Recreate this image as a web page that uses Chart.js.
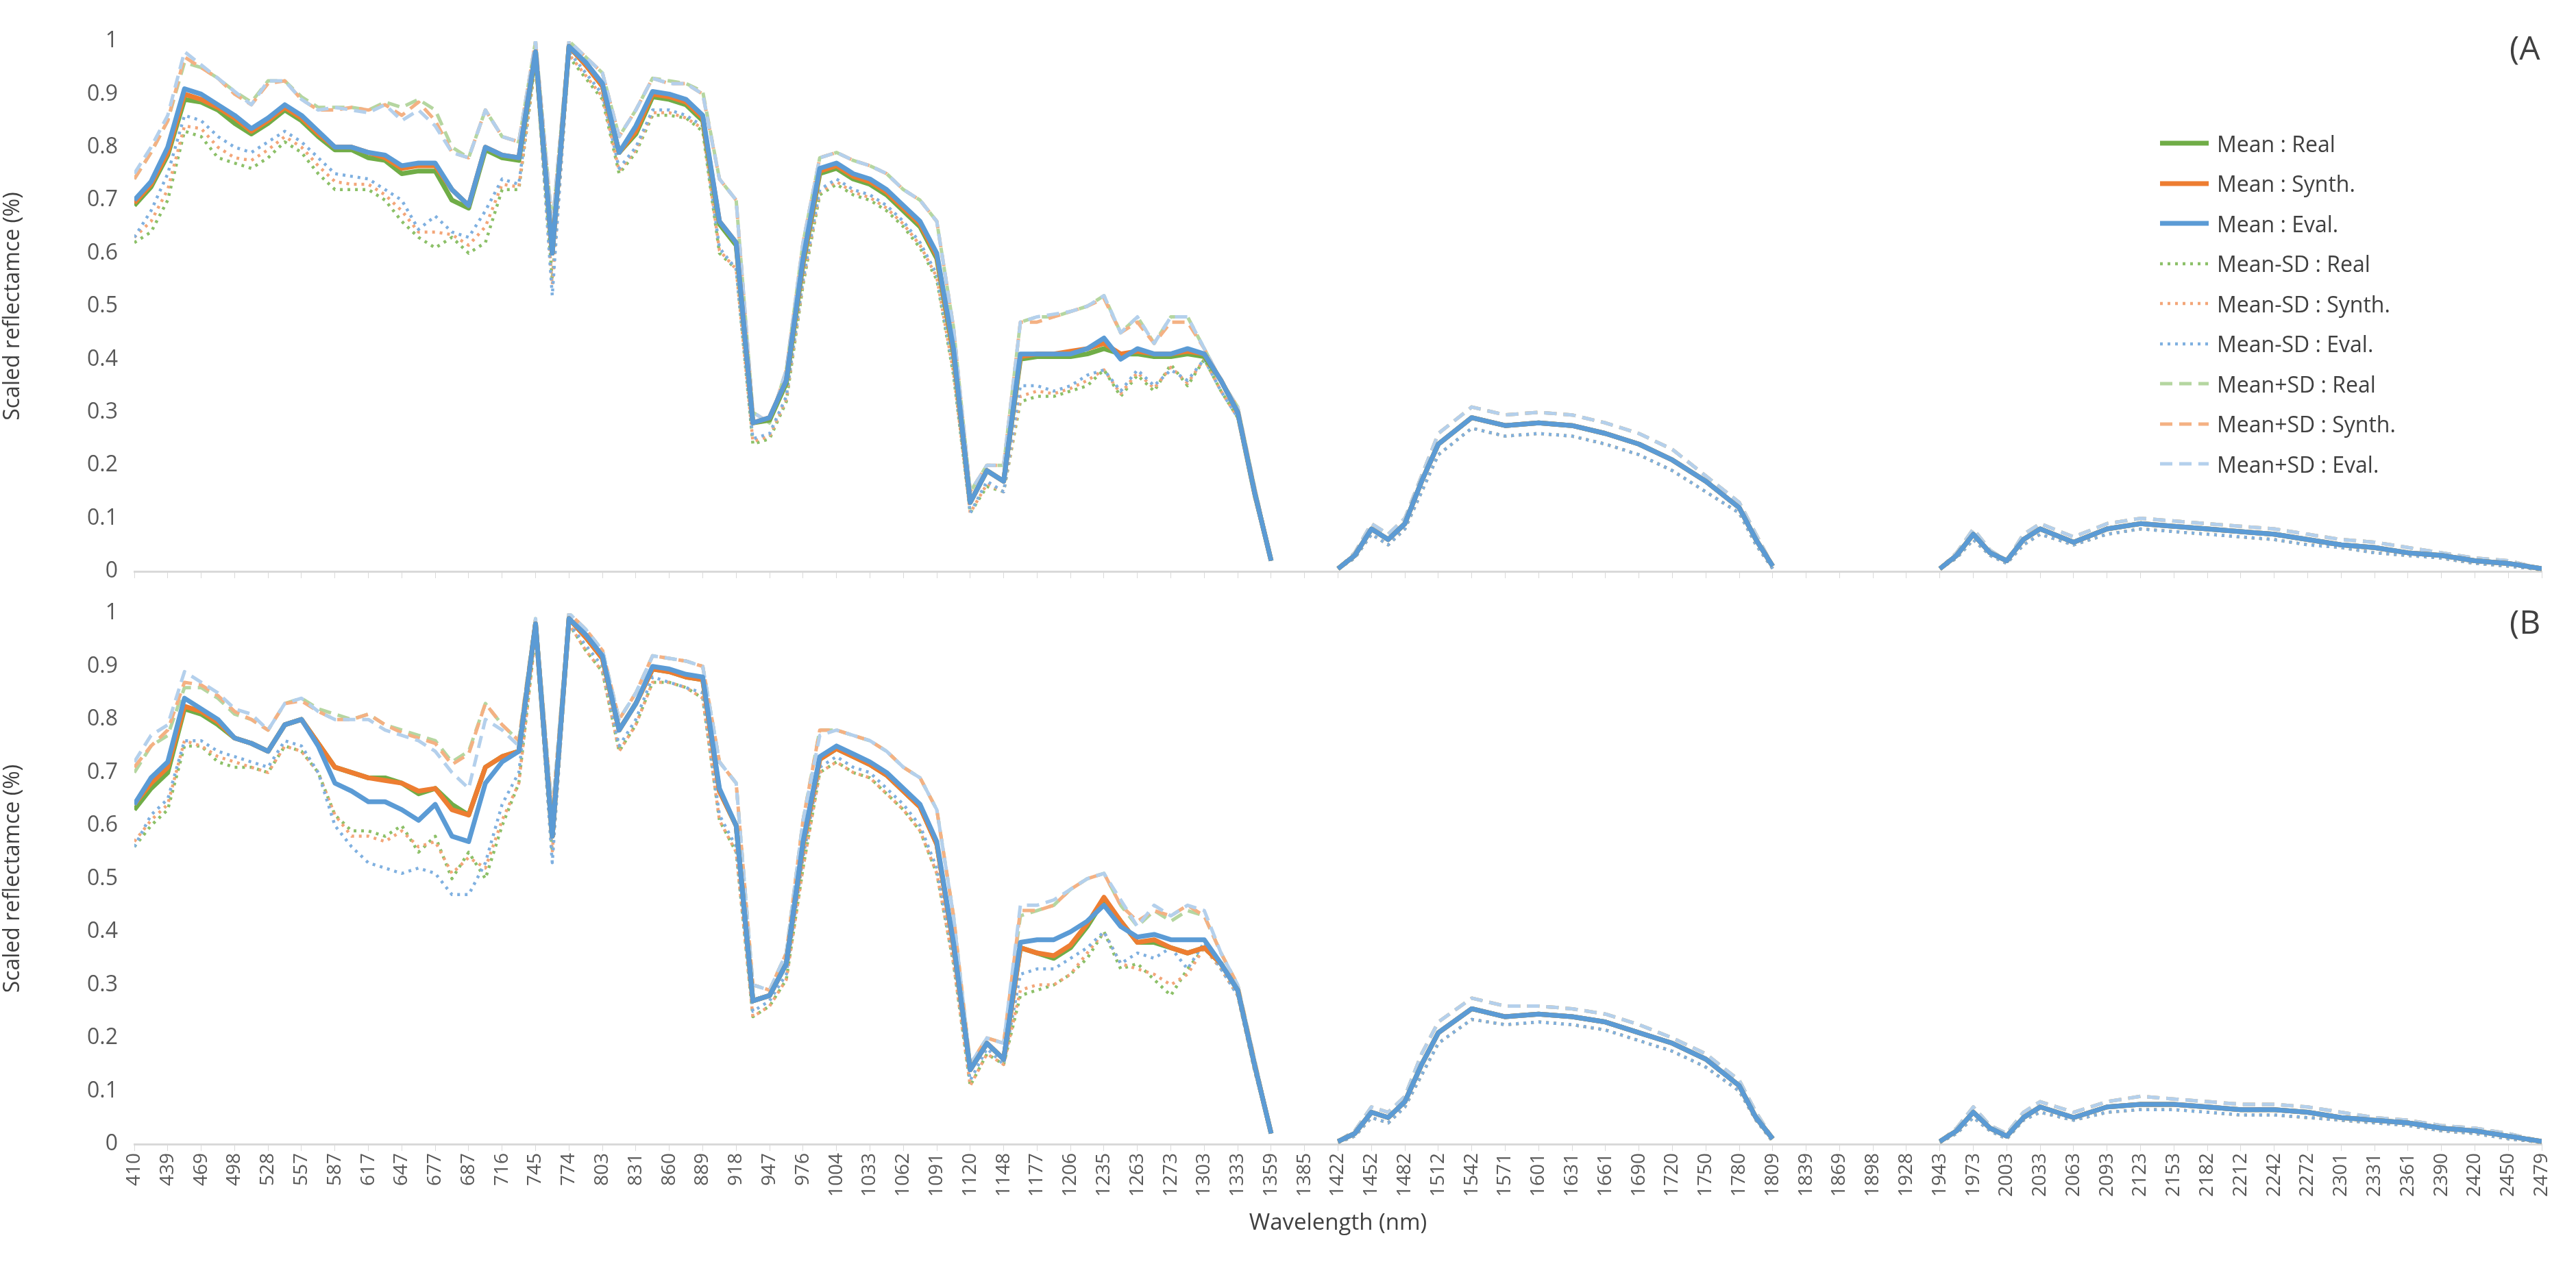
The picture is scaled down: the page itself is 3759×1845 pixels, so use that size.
<!DOCTYPE html>
<html><head><meta charset="utf-8">
<script src="https://cdn.jsdelivr.net/npm/chart.js@4.4.1/dist/chart.umd.min.js"></script>
<style>
body{margin:0;background:#fff;width:3759px;height:1845px;overflow:hidden;font-family:"Open Sans",sans-serif;}
.box{position:absolute;left:0;width:3759px;}
.lbl{position:absolute;font-size:48px;color:#404040;font-family:"Open Sans",sans-serif;}
#legend{position:absolute;left:3150px;top:180px;}
.li{height:58.5px;display:flex;align-items:center;font-size:32px;color:#404040;}
.li canvas{margin-right:10px;}
</style></head><body>
<div class="box" style="top:0;height:880px"><canvas id="cA"></canvas></div>
<div class="box" style="top:860px;height:945px"><canvas id="cB"></canvas></div>
<div class="lbl" style="left:3662px;top:36px">(A</div>
<div class="lbl" style="left:3662px;top:874px">(B</div>
<div id="legend"></div>
<script>
const tickLabels=[410,439,469,498,528,557,587,617,647,677,687,716,745,774,803,831,860,889,918,947,976,1004,1033,1062,1091,1120,1148,1177,1206,1235,1263,1273,1303,1333,1359,1385,1422,1452,1482,1512,1542,1571,1601,1631,1661,1690,1720,1750,1780,1809,1839,1869,1898,1928,1943,1973,2003,2033,2063,2093,2123,2153,2182,2212,2242,2272,2301,2331,2361,2390,2420,2450,2479];
// sample positions (in tick-label index units)
const xVis=[0,0.5,1,1.5,2,2.5,3,3.5,4,4.5,5,5.5,6,6.5,7,7.5,8,8.5,9,9.5,10,10.5,11,11.5,12,12.5,13,13.5,14,14.5,15,15.5,16,16.5,17,17.5,18,18.5,19,19.5,20,20.5,21,21.5,22,22.5,23,23.5,24,24.5,25,25.5,26,26.5,27,27.5,28,28.5,29,29.5,30,30.5,31,31.5,32,32.5,33,33.5,34];
const xSwir=[35,36,36.5,37,37.5,38,38.5,39,40,41,42,43,44,45,46,47,48,48.5,49,50,54,54.5,55,55.5,56,56.5,57,58,59,60,61,62,63,64,65,66,67,68,69,70,71,72];

// Panel A
const A_meanReal_vis=[0.69,0.725,0.785,0.89,0.885,0.87,0.845,0.825,0.845,0.87,0.85,0.82,0.795,0.795,0.78,0.775,0.75,0.755,0.755,0.70,0.685,0.795,0.78,0.775,0.975,0.60,0.99,0.955,0.915,0.79,0.825,0.895,0.89,0.88,0.85,0.655,0.615,0.28,0.285,0.355,0.58,0.75,0.76,0.74,0.73,0.71,0.68,0.65,0.59,0.41,0.13,0.19,0.17,0.40,0.405,0.405,0.405,0.41,0.42,0.41,0.41,0.405,0.405,0.41,0.405,0.36,0.30,0.15,0.02];
const A_meanSynth_vis=[0.695,0.73,0.79,0.90,0.89,0.875,0.855,0.83,0.85,0.875,0.855,0.825,0.80,0.80,0.79,0.78,0.76,0.765,0.765,0.72,0.69,0.80,0.785,0.78,0.98,0.60,0.99,0.955,0.915,0.79,0.83,0.90,0.895,0.885,0.855,0.66,0.62,0.28,0.29,0.36,0.585,0.755,0.765,0.745,0.735,0.715,0.685,0.655,0.595,0.415,0.13,0.19,0.17,0.405,0.41,0.41,0.415,0.42,0.43,0.41,0.415,0.41,0.41,0.415,0.41,0.36,0.30,0.15,0.02];
const A_meanEval_vis=[0.70,0.735,0.80,0.91,0.90,0.88,0.86,0.835,0.855,0.88,0.86,0.83,0.80,0.80,0.79,0.785,0.765,0.77,0.77,0.72,0.69,0.80,0.785,0.78,0.98,0.60,0.99,0.96,0.92,0.79,0.84,0.905,0.90,0.89,0.86,0.66,0.62,0.28,0.29,0.36,0.59,0.76,0.77,0.75,0.74,0.72,0.69,0.66,0.60,0.42,0.13,0.19,0.17,0.41,0.41,0.41,0.41,0.42,0.44,0.40,0.42,0.41,0.41,0.42,0.41,0.36,0.30,0.15,0.02];
const A_lowReal_vis=[0.62,0.64,0.70,0.83,0.82,0.78,0.77,0.76,0.78,0.81,0.79,0.75,0.72,0.72,0.72,0.70,0.66,0.63,0.61,0.63,0.60,0.62,0.72,0.72,0.96,0.55,0.97,0.93,0.89,0.75,0.79,0.86,0.86,0.855,0.83,0.60,0.57,0.24,0.25,0.32,0.54,0.71,0.73,0.71,0.70,0.68,0.65,0.61,0.55,0.37,0.11,0.16,0.15,0.32,0.33,0.33,0.34,0.35,0.38,0.33,0.37,0.34,0.39,0.35,0.40,0.34,0.29,0.14,0.02];
const A_lowSynth_vis=[0.63,0.66,0.72,0.84,0.835,0.80,0.78,0.775,0.795,0.82,0.80,0.765,0.735,0.73,0.73,0.71,0.68,0.64,0.64,0.635,0.615,0.65,0.73,0.725,0.965,0.54,0.975,0.935,0.895,0.755,0.795,0.865,0.865,0.855,0.835,0.605,0.57,0.245,0.255,0.325,0.545,0.715,0.735,0.715,0.705,0.685,0.655,0.615,0.555,0.375,0.11,0.165,0.15,0.33,0.34,0.335,0.345,0.36,0.38,0.335,0.375,0.345,0.385,0.355,0.40,0.34,0.29,0.14,0.02];
const A_lowEval_vis=[0.63,0.68,0.75,0.86,0.85,0.82,0.80,0.79,0.81,0.83,0.81,0.78,0.75,0.745,0.74,0.72,0.70,0.645,0.67,0.64,0.63,0.68,0.74,0.73,0.97,0.52,0.98,0.94,0.90,0.76,0.80,0.87,0.87,0.86,0.84,0.61,0.57,0.25,0.26,0.33,0.55,0.72,0.74,0.72,0.71,0.69,0.66,0.62,0.56,0.38,0.11,0.17,0.15,0.35,0.35,0.34,0.35,0.37,0.38,0.34,0.38,0.35,0.38,0.36,0.40,0.34,0.29,0.14,0.02];
const A_upReal_vis=[0.74,0.79,0.85,0.96,0.95,0.93,0.905,0.885,0.925,0.925,0.895,0.875,0.875,0.875,0.87,0.885,0.875,0.89,0.87,0.80,0.78,0.87,0.82,0.81,1.0,0.65,1.0,0.97,0.94,0.82,0.87,0.93,0.925,0.92,0.905,0.74,0.70,0.30,0.28,0.38,0.62,0.78,0.79,0.775,0.765,0.75,0.72,0.70,0.66,0.46,0.15,0.20,0.20,0.47,0.48,0.48,0.49,0.50,0.52,0.45,0.48,0.43,0.48,0.48,0.42,0.36,0.31,0.16,0.02];
const A_upSynth_vis=[0.74,0.79,0.85,0.97,0.95,0.93,0.90,0.88,0.92,0.925,0.89,0.87,0.87,0.875,0.87,0.88,0.86,0.885,0.85,0.79,0.78,0.87,0.82,0.81,1.0,0.65,1.0,0.97,0.94,0.82,0.87,0.93,0.92,0.92,0.90,0.74,0.70,0.30,0.28,0.38,0.62,0.78,0.79,0.775,0.765,0.75,0.72,0.70,0.66,0.46,0.15,0.20,0.20,0.47,0.47,0.48,0.49,0.50,0.515,0.45,0.47,0.43,0.47,0.47,0.42,0.36,0.31,0.16,0.02];
const A_upEval_vis=[0.75,0.80,0.86,0.98,0.955,0.93,0.905,0.88,0.925,0.925,0.89,0.87,0.875,0.87,0.865,0.88,0.85,0.87,0.84,0.79,0.78,0.87,0.82,0.81,1.0,0.65,1.0,0.97,0.94,0.82,0.87,0.93,0.92,0.92,0.90,0.74,0.70,0.30,0.28,0.38,0.62,0.78,0.79,0.775,0.765,0.75,0.72,0.70,0.66,0.46,0.15,0.20,0.20,0.47,0.48,0.485,0.49,0.50,0.52,0.45,0.48,0.43,0.48,0.48,0.42,0.36,0.31,0.16,0.02];
const A_mean_swir=[null,0.005,0.03,0.08,0.06,0.09,0.17,0.24,0.29,0.275,0.28,0.275,0.26,0.24,0.21,0.17,0.12,0.06,0.01,null,0.005,0.03,0.07,0.035,0.02,0.06,0.08,0.055,0.08,0.09,0.085,0.08,0.075,0.07,0.06,0.05,0.045,0.035,0.03,0.02,0.015,0.005];
const A_up_swir=[null,0.005,0.035,0.09,0.07,0.10,0.18,0.26,0.31,0.295,0.30,0.295,0.28,0.26,0.23,0.18,0.13,0.07,0.01,null,0.005,0.035,0.08,0.04,0.02,0.07,0.09,0.065,0.09,0.10,0.095,0.09,0.085,0.08,0.07,0.06,0.055,0.045,0.035,0.025,0.02,0.005];
const A_low_swir=[null,0.005,0.025,0.07,0.05,0.08,0.15,0.22,0.27,0.255,0.26,0.255,0.24,0.22,0.19,0.15,0.11,0.05,0.005,null,0.005,0.025,0.06,0.03,0.015,0.05,0.07,0.05,0.07,0.08,0.075,0.07,0.065,0.06,0.05,0.045,0.035,0.03,0.025,0.015,0.01,0.003];

// Panel B
const B_meanReal_vis=[0.63,0.67,0.70,0.82,0.81,0.79,0.765,0.755,0.74,0.79,0.80,0.755,0.71,0.70,0.69,0.69,0.68,0.66,0.67,0.64,0.62,0.71,0.73,0.74,0.98,0.58,0.99,0.955,0.915,0.78,0.83,0.895,0.89,0.88,0.875,0.665,0.60,0.27,0.28,0.34,0.565,0.725,0.745,0.73,0.715,0.695,0.665,0.635,0.565,0.375,0.14,0.19,0.16,0.37,0.36,0.35,0.37,0.41,0.46,0.42,0.38,0.38,0.37,0.36,0.37,0.34,0.29,0.15,0.02];
const B_meanSynth_vis=[0.64,0.68,0.71,0.825,0.815,0.795,0.765,0.755,0.74,0.79,0.80,0.755,0.71,0.70,0.69,0.685,0.68,0.665,0.67,0.63,0.62,0.71,0.73,0.74,0.98,0.58,0.99,0.955,0.915,0.78,0.83,0.895,0.89,0.88,0.875,0.665,0.60,0.27,0.28,0.34,0.565,0.725,0.745,0.73,0.715,0.695,0.665,0.635,0.565,0.375,0.14,0.19,0.16,0.37,0.36,0.355,0.375,0.415,0.465,0.42,0.38,0.385,0.37,0.36,0.37,0.34,0.29,0.15,0.02];
const B_meanEval_vis=[0.64,0.69,0.72,0.84,0.82,0.80,0.765,0.755,0.74,0.79,0.80,0.75,0.68,0.665,0.645,0.645,0.63,0.61,0.64,0.58,0.57,0.68,0.72,0.74,0.98,0.58,0.99,0.96,0.92,0.78,0.83,0.90,0.895,0.885,0.88,0.67,0.60,0.27,0.28,0.34,0.57,0.73,0.75,0.735,0.72,0.70,0.67,0.64,0.57,0.38,0.14,0.19,0.16,0.38,0.385,0.385,0.40,0.42,0.45,0.41,0.39,0.395,0.385,0.385,0.385,0.34,0.29,0.15,0.02];
const B_lowReal_vis=[0.56,0.60,0.63,0.75,0.75,0.72,0.71,0.71,0.70,0.75,0.74,0.70,0.62,0.59,0.59,0.58,0.60,0.55,0.58,0.50,0.55,0.50,0.60,0.68,0.96,0.55,0.98,0.93,0.89,0.74,0.79,0.87,0.87,0.86,0.84,0.61,0.55,0.24,0.26,0.31,0.52,0.70,0.72,0.70,0.69,0.66,0.63,0.59,0.51,0.34,0.11,0.17,0.15,0.28,0.29,0.30,0.32,0.35,0.40,0.33,0.34,0.31,0.28,0.33,0.37,0.33,0.28,0.14,0.02];
const B_lowSynth_vis=[0.57,0.61,0.64,0.76,0.75,0.73,0.72,0.71,0.70,0.75,0.74,0.70,0.62,0.58,0.58,0.57,0.59,0.56,0.57,0.51,0.54,0.52,0.61,0.68,0.96,0.55,0.98,0.93,0.89,0.74,0.79,0.87,0.87,0.86,0.84,0.61,0.55,0.24,0.26,0.31,0.52,0.70,0.72,0.70,0.69,0.66,0.63,0.59,0.51,0.34,0.11,0.17,0.15,0.29,0.30,0.30,0.32,0.36,0.40,0.34,0.33,0.32,0.30,0.32,0.37,0.33,0.28,0.14,0.02];
const B_lowEval_vis=[0.56,0.62,0.65,0.76,0.76,0.74,0.73,0.72,0.71,0.76,0.75,0.70,0.60,0.56,0.53,0.52,0.51,0.52,0.51,0.47,0.47,0.53,0.64,0.70,0.97,0.53,0.98,0.94,0.90,0.75,0.80,0.88,0.87,0.86,0.85,0.62,0.56,0.25,0.27,0.32,0.54,0.71,0.73,0.71,0.70,0.67,0.64,0.60,0.52,0.35,0.12,0.18,0.15,0.32,0.33,0.33,0.35,0.37,0.40,0.34,0.36,0.35,0.37,0.33,0.38,0.33,0.28,0.14,0.02];
const B_upReal_vis=[0.70,0.75,0.77,0.86,0.86,0.84,0.81,0.80,0.78,0.83,0.84,0.82,0.81,0.80,0.81,0.79,0.78,0.77,0.76,0.72,0.74,0.83,0.79,0.76,0.99,0.62,1.0,0.97,0.93,0.80,0.85,0.92,0.915,0.91,0.90,0.72,0.68,0.30,0.29,0.36,0.61,0.78,0.78,0.77,0.76,0.74,0.71,0.69,0.63,0.43,0.15,0.20,0.19,0.43,0.44,0.45,0.48,0.50,0.51,0.45,0.41,0.44,0.42,0.44,0.43,0.36,0.30,0.16,0.02];
const B_upSynth_vis=[0.71,0.75,0.78,0.87,0.865,0.845,0.815,0.80,0.78,0.83,0.835,0.815,0.80,0.80,0.81,0.79,0.775,0.765,0.755,0.715,0.735,0.83,0.79,0.76,0.99,0.62,1.0,0.97,0.93,0.80,0.85,0.92,0.915,0.91,0.90,0.72,0.68,0.30,0.29,0.36,0.61,0.78,0.78,0.77,0.76,0.74,0.71,0.69,0.63,0.43,0.15,0.20,0.19,0.44,0.44,0.45,0.48,0.50,0.51,0.45,0.42,0.44,0.43,0.45,0.43,0.36,0.30,0.16,0.02];
const B_upEval_vis=[0.72,0.77,0.79,0.89,0.87,0.85,0.82,0.81,0.78,0.83,0.84,0.815,0.80,0.80,0.80,0.78,0.77,0.76,0.74,0.70,0.67,0.80,0.78,0.75,0.99,0.62,1.0,0.97,0.93,0.80,0.85,0.92,0.915,0.91,0.90,0.72,0.68,0.30,0.29,0.36,0.61,0.77,0.78,0.77,0.76,0.74,0.71,0.69,0.63,0.43,0.15,0.20,0.19,0.45,0.45,0.46,0.48,0.50,0.51,0.46,0.41,0.45,0.43,0.45,0.44,0.36,0.30,0.16,0.02];
const B_mean_swir=[null,0.005,0.02,0.06,0.05,0.08,0.15,0.21,0.255,0.24,0.245,0.24,0.23,0.21,0.19,0.16,0.11,0.05,0.01,null,0.005,0.025,0.06,0.03,0.015,0.05,0.07,0.05,0.07,0.075,0.075,0.07,0.065,0.065,0.06,0.05,0.045,0.04,0.03,0.025,0.015,0.005];
const B_up_swir=[null,0.005,0.025,0.07,0.06,0.09,0.17,0.23,0.275,0.26,0.26,0.255,0.245,0.225,0.20,0.17,0.12,0.06,0.01,null,0.005,0.03,0.07,0.035,0.02,0.06,0.08,0.06,0.08,0.09,0.085,0.08,0.075,0.075,0.07,0.06,0.05,0.045,0.035,0.03,0.02,0.005];
const B_low_swir=[null,0.003,0.015,0.05,0.04,0.07,0.13,0.19,0.235,0.225,0.23,0.225,0.215,0.195,0.175,0.145,0.10,0.045,0.005,null,0.003,0.02,0.05,0.025,0.01,0.045,0.06,0.045,0.06,0.065,0.065,0.06,0.055,0.055,0.05,0.045,0.04,0.035,0.025,0.02,0.01,0.003];

const seriesNames=["Mean : Real","Mean : Synth.","Mean : Eval.","Mean-SD : Real","Mean-SD : Synth.","Mean-SD : Eval.","Mean+SD : Real","Mean+SD : Synth.","Mean+SD : Eval."];
const styles=[
 {c:'#70ad47',w:7,d:[],o:2},{c:'#ed7d31',w:7,d:[],o:1},{c:'#5b9bd5',w:7,d:[],o:0},
 {c:'#8cc068',w:4.5,d:[4,7],o:5},{c:'#f3a679',w:4.5,d:[4,7],o:4},{c:'#7fb0e0',w:4.5,d:[4,7],o:3},
 {c:'#b5d6a0',w:5,d:[18,10],o:8},{c:'#f4b183',w:5,d:[18,10],o:7},{c:'#b4d0ec',w:5,d:[18,10],o:6}];
const X=xVis.concat(xSwir);
const panelA=[A_meanReal_vis.concat(A_mean_swir),A_meanSynth_vis.concat(A_mean_swir),A_meanEval_vis.concat(A_mean_swir),
 A_lowReal_vis.concat(A_low_swir),A_lowSynth_vis.concat(A_low_swir),A_lowEval_vis.concat(A_low_swir),
 A_upReal_vis.concat(A_up_swir),A_upSynth_vis.concat(A_up_swir),A_upEval_vis.concat(A_up_swir)];
const panelB=[B_meanReal_vis.concat(B_mean_swir),B_meanSynth_vis.concat(B_mean_swir),B_meanEval_vis.concat(B_mean_swir),
 B_lowReal_vis.concat(B_low_swir),B_lowSynth_vis.concat(B_low_swir),B_lowEval_vis.concat(B_low_swir),
 B_upReal_vis.concat(B_up_swir),B_upSynth_vis.concat(B_up_swir),B_upEval_vis.concat(B_up_swir)];

const FONT='"Open Sans", sans-serif';
function make(id,sets,bottom){
  const ds=sets.map((arr,i)=>({label:seriesNames[i],data:X.map((x,j)=>({x:x,y:arr[j]})),
    borderColor:styles[i].c,borderWidth:styles[i].w,borderDash:styles[i].d,order:styles[i].o,
    pointRadius:0,tension:0,spanGaps:false,fill:false,borderCapStyle:'butt',borderJoinStyle:'round'}));
  return new Chart(document.getElementById(id),{type:'line',data:{datasets:ds},
   options:{responsive:true,maintainAspectRatio:false,animation:false,
    layout:{padding:{top:bottom?34:60,right:50,left:0,bottom:0}},
    plugins:{legend:{display:false},tooltip:{enabled:false}},
    scales:{
     x:{type:'linear',min:0,max:72,
        afterFit:s=>{s.height=bottom?135:46;},
        afterBuildTicks:s=>{s.ticks=tickLabels.map((v,i)=>({value:i}));},
        ticks:{display:bottom,autoSkip:false,minRotation:90,maxRotation:90,color:'#595959',font:{family:FONT,size:28},
          callback:(v)=>tickLabels[v]},
        grid:{display:true,drawOnChartArea:false,drawTicks:true,tickLength:10,color:'#d9d9d9'},
        border:{display:true,color:'#d9d9d9',width:3},
        title:{display:bottom,text:'Wavelength (nm)',color:'#404040',font:{family:FONT,size:33},padding:{top:0,bottom:0}}},
     y:{min:0,max:1,afterFit:s=>{s.width=196;},
        ticks:{stepSize:0.1,color:'#595959',font:{family:FONT,size:32},padding:16,
          callback:v=>Math.round(v*10)/10},
        grid:{display:false},border:{display:false},
        title:{display:true,text:'Scaled reflectamce (%)',color:'#404040',font:{family:FONT,size:32},padding:{top:0,bottom:6}}}}}});
}
make('cA',panelA,false);
make('cB',panelB,true);

const leg=document.getElementById('legend');
seriesNames.forEach((n,i)=>{
  const row=document.createElement('div');row.className='li';
  const c=document.createElement('canvas');c.width=75;c.height=20;
  const g=c.getContext('2d');g.strokeStyle=styles[i].c;g.lineWidth=styles[i].w;g.setLineDash(styles[i].d);
  g.beginPath();g.moveTo(2,10);g.lineTo(73,10);g.stroke();
  const t=document.createElement('span');t.textContent=n;
  row.appendChild(c);row.appendChild(t);leg.appendChild(row);
});
</script></body></html>
